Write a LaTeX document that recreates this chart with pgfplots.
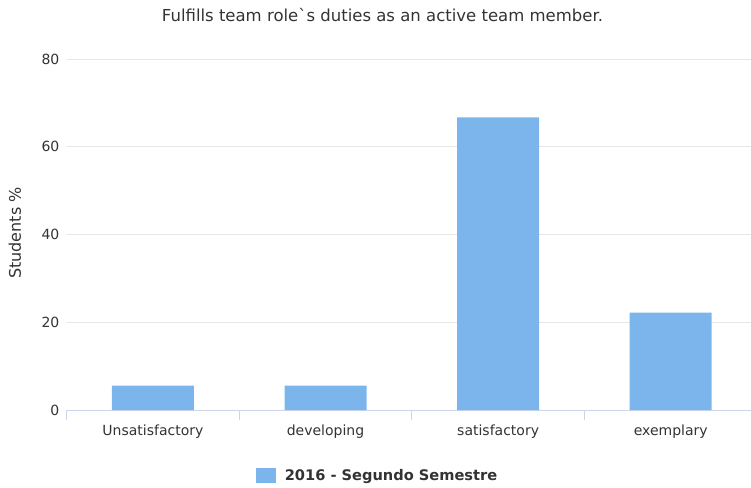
\documentclass[border=0pt]{standalone}
\usepackage{fontspec}
\setmainfont{DejaVu Sans}
\newfontfamily\titlefont{DejaVu Sans}[Ligatures=TeXOff]
\usepackage{pgfplots}
\pgfplotsset{compat=1.18}
\definecolor{barcol}{HTML}{7CB5EC}
\definecolor{gridcol}{HTML}{E6E6E6}
\definecolor{axiscol}{HTML}{CCD6EB}
\definecolor{txt}{HTML}{333333}
\begin{document}
\begin{tikzpicture}[x=1pt,y=1pt]
\useasboundingbox (0,0) rectangle (751,487);
\node[font=\titlefont\fontsize{16.5}{19}\selectfont, text=txt] at (382.5,472) {Fulfills team role`s duties as an active team member.};
\begin{axis}[
  at={(66.6pt,77pt)}, anchor=south west,
  scale only axis, width=684.4pt, height=351pt,
  xmin=-0.5, xmax=3.465, ymin=0, ymax=80,
  ybar, bar width=82pt,
  axis x line*=bottom, axis y line*=left,
  x axis line style={draw=axiscol, line width=1pt, -},
  y axis line style={draw=none},
  ytick={0,20,40,60,80},
  xtick={0,1,2,3},
  xticklabels={Unsatisfactory,developing,satisfactory,exemplary},
  major tick length=0pt,
  ytick style={draw=none},
  xtick style={draw=none},
  extra x ticks={-0.5,0.5,1.5,2.5},
  extra x tick labels={},
  extra x tick style={major tick length=10pt, tick align=outside, xtick style={draw=axiscol, line width=1pt}, grid=none},
  ymajorgrids, grid style={draw=gridcol, line width=1pt},
  /pgf/number format/assume math mode=true,
  yticklabel style={font=\fontsize{14}{16}\selectfont, text=txt, anchor=east, inner sep=0pt, xshift=-7pt},
  xticklabel style={font=\fontsize{14}{16}\selectfont, text=txt, anchor=base, inner sep=0pt, yshift=-25pt},
  ylabel={Students \%},
  ylabel style={font=\fontsize{16}{19}\selectfont, text=txt, at={(axis description cs:-0.0754,0.504)}, anchor=center, rotate=0},
  legend style={at={(axis description cs:0.4543,-0.188)}, anchor=center, draw=none, fill=none,
    font=\fontsize{14.6}{17}\selectfont\bfseries, text=txt, inner sep=0pt,
    /tikz/every odd column/.append style={column sep=7pt}},
  legend image code/.code={\fill[barcol] (0pt,-7.5pt) rectangle (20pt,7.5pt);},
  clip=false,
]
\addplot[fill=barcol, draw=none] coordinates {(0,5.56) (1,5.56) (2,66.67) (3,22.22)};
\addlegendentry{2016 - Segundo Semestre}
\end{axis}
\end{tikzpicture}
\end{document}
